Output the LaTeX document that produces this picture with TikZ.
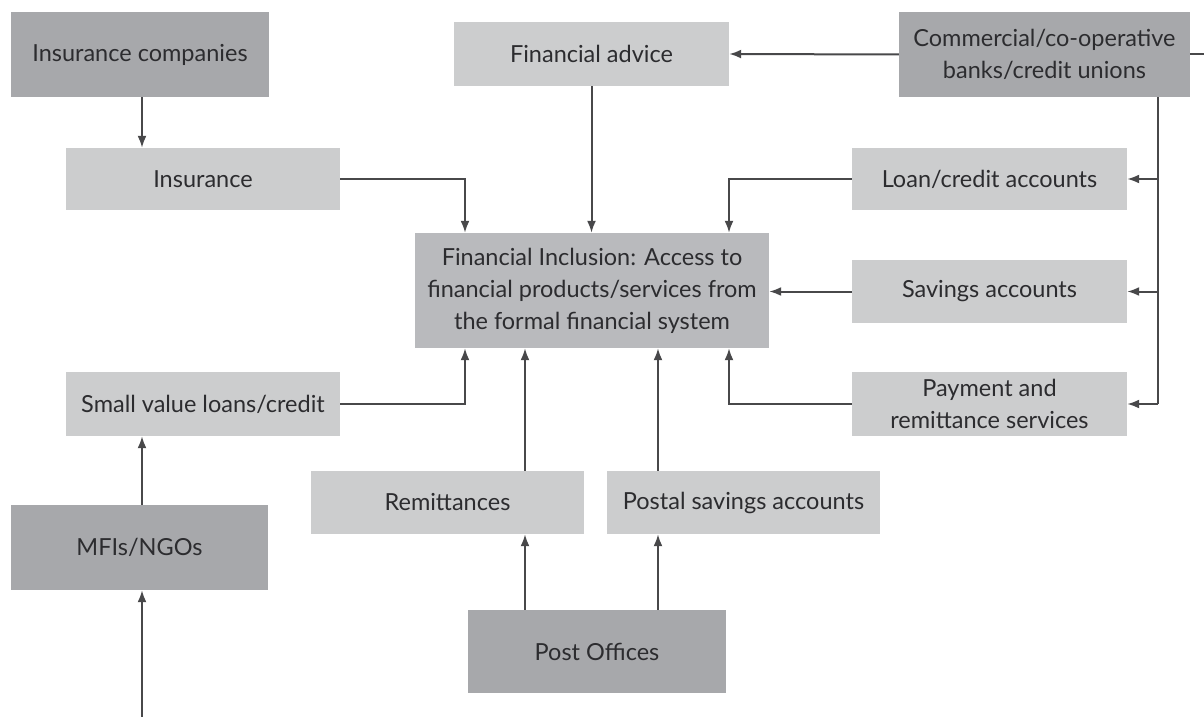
\documentclass[tikz,border=0pt]{standalone}
\usepackage{fontspec}
\setmainfont{Lato}
\usetikzlibrary{arrows.meta, calc}
\definecolor{boxdark}{HTML}{A7A8AB}
\definecolor{boxlight}{HTML}{CCCDCE}
\definecolor{boxmid}{HTML}{B9BABD}
\definecolor{inktext}{HTML}{2C2C2F}
\definecolor{inkline}{HTML}{48484A}

\begin{document}
\begin{tikzpicture}[x=1pt, y=-1pt,
    box/.style={rectangle, inner sep=3pt, align=center, text=inktext, font=\fontsize{23.5}{32}\selectfont},
    darkbox/.style={box, fill=boxdark},
    lightbox/.style={box, fill=boxlight},
    link/.style={draw=inkline, line width=2pt},
    arr/.style={link, -{Latex[length=12pt, width=9pt]}}]
    \useasboundingbox (0,0) rectangle (1204,717);

    \node[darkbox, minimum width=258pt, minimum height=85pt] (inscomp) at (140,54.5) {Insurance companies};
    \node[lightbox, minimum width=274pt, minimum height=62pt] (ins) at (203,179) {Insurance};
    \node[lightbox, minimum width=275pt, minimum height=64pt] (advice) at (591.5,54) {Financial advice};
    \node[darkbox, minimum width=291pt, minimum height=85pt] (banks) at (1044.5,54.5)
        {Commercial/co-operative\\banks/credit unions};
    \node[lightbox, minimum width=275pt, minimum height=62pt] (loan) at (989.5,179) {Loan/credit accounts};
    \node[box, fill=boxmid, minimum width=354pt, minimum height=115pt] (fi) at (592,290.5)
        {Financial Inclusion: Access to\\financial products/services from\\the formal financial system};
    \node[lightbox, minimum width=275pt, minimum height=63pt] (savings) at (989.5,291.5) {Savings accounts};
    \node[lightbox, minimum width=275pt, minimum height=64pt] (payment) at (989.5,404)
        {Payment and\\remittance services};
    \node[lightbox, minimum width=274pt, minimum height=64pt] (small) at (203,404) {Small value loans/credit};
    \node[darkbox, minimum width=257pt, minimum height=85pt] (mfi) at (139.5,547.5) {MFIs/NGOs};
    \node[lightbox, minimum width=273pt, minimum height=63pt] (remit) at (447.5,502.5) {Remittances};
    \node[lightbox, minimum width=273pt, minimum height=63pt] (postal) at (743.5,502.5) {Postal savings accounts};
    \node[darkbox, minimum width=258pt, minimum height=83pt] (post) at (597,651.5) {Post Offices};

    \coordinate (fiA) at (465,0);
    \coordinate (fiB) at (729,0);
    \coordinate (pL) at (525,0);
    \coordinate (pR) at (658,0);
    \coordinate (mfiX) at (142,0);
    \coordinate (trunk) at (1158,0);
    \coordinate (rightedge) at (1204,54.5);
    \coordinate (bottomedge) at (142,717);

    \draw[arr] (inscomp.south -| mfiX) -- (ins.north -| mfiX);
    \draw[arr] (ins.east) -| (fi.north -| fiA);
    \draw[arr] (advice.south) -- (fi.north -| advice.south);
    \draw[arr] (banks.west) -- (advice.east);
    \draw[link] (banks.east) -- (rightedge);
    \draw[link] (banks.south -| trunk) -- (payment.east -| trunk);
    \draw[arr] (loan.east -| trunk) -- (loan.east);
    \draw[arr] (savings.east -| trunk) -- (savings.east);
    \draw[arr] (payment.east -| trunk) -- (payment.east);
    \draw[arr] (loan.west) -| (fi.north -| fiB);
    \draw[arr] (savings.west) -- (fi.east |- savings.west);
    \draw[arr] (payment.west) -| (fi.south -| fiB);
    \draw[arr] (small.east) -| (fi.south -| fiA);
    \draw[arr] (remit.north -| pL) -- (fi.south -| pL);
    \draw[arr] (postal.north -| pR) -- (fi.south -| pR);
    \draw[arr] (post.north -| pL) -- (remit.south -| pL);
    \draw[arr] (post.north -| pR) -- (postal.south -| pR);
    \draw[arr] (mfi.north -| mfiX) -- (small.south -| mfiX);
    \draw[arr] (bottomedge) -- (mfi.south -| bottomedge);
\end{tikzpicture}
\end{document}
